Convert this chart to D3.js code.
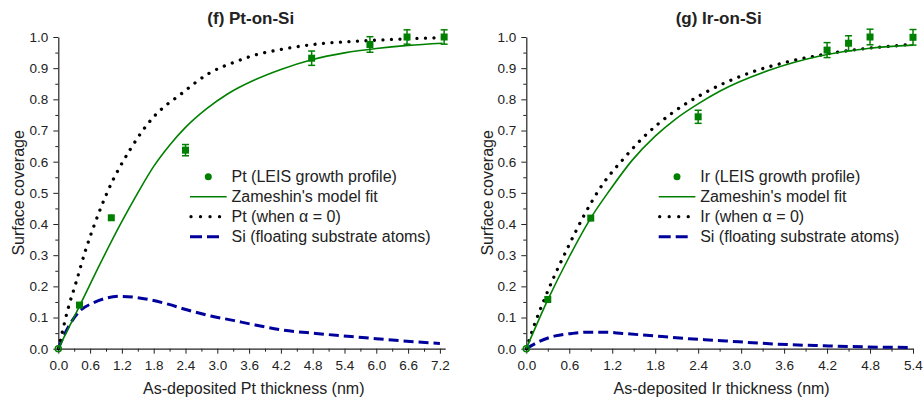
<!DOCTYPE html>
<html>
<head>
<meta charset="utf-8">
<script src="https://cdn.jsdelivr.net/npm/d3@7"></script>
<style>
  html, body { margin: 0; padding: 0; background: #fff; }
  svg { display: block; font-family: "Liberation Sans", Arial, sans-serif; }
</style>
</head>
<body>
<svg id="chart" width="924" height="405"></svg>
<script>
// ---------- DATA ----------
const yTicks = [0.0, 0.1, 0.2, 0.3, 0.4, 0.5, 0.6, 0.7, 0.8, 0.9, 1.0];
const xTicksPt = [0.0, 0.6, 1.2, 1.8, 2.4, 3.0, 3.6, 4.2, 4.8, 5.4, 6.0, 6.6, 7.2];
const xTicksIr = [0.0, 0.6, 1.2, 1.8, 2.4, 3.0, 3.6, 4.2, 4.8, 5.4];

// Pt-on-Si measured points
const ptThick = [0, 0.4, 1.0, 2.4, 4.78, 5.88, 6.58, 7.28];
const ptCov   = [0, 0.14, 0.42, 0.637, 0.932, 0.976, 1.0, 1.0];
const ptErr   = [0, 0.01, 0.01, 0.018, 0.023, 0.025, 0.023, 0.023];
// Pt model fit
const ptFitX = [0, 0.41, 0.8, 1.19, 1.5, 1.8, 2.1, 2.4, 2.8, 3.2, 3.7, 4.2, 4.8, 5.4, 6.0, 6.6, 7.25];
const ptFitY = [0, 0.14, 0.276, 0.405, 0.5, 0.585, 0.653, 0.71, 0.77, 0.818, 0.862, 0.896, 0.928, 0.949, 0.963, 0.973, 0.98];
// Pt when alpha = 0
const ptZeroX = [0, 0.05, 0.18, 0.33, 0.52, 0.69, 0.93, 1.37, 1.79, 2.33, 2.84, 3.35, 3.67, 4.2, 4.86, 5.8, 7.25];
const ptZeroY = [0, 0.035, 0.126, 0.21, 0.319, 0.402, 0.504, 0.643, 0.742, 0.819, 0.883, 0.921, 0.94, 0.96, 0.977, 0.988, 0.998];
// Si floating substrate atoms (Pt panel)
const ptSiX = [0, 0.1, 0.19, 0.4, 0.66, 0.9, 1.15, 1.44, 1.76, 2.07, 2.44, 2.88, 3.32, 3.63, 4.23, 4.86, 5.8, 6.42, 7.2];
const ptSiY = [0, 0.04, 0.07, 0.12, 0.147, 0.162, 0.168, 0.165, 0.156, 0.143, 0.124, 0.105, 0.09, 0.079, 0.06, 0.049, 0.035, 0.026, 0.017];

// Ir-on-Si measured points
const irThick = [0, 0.3, 0.9, 2.4, 4.2, 4.5, 4.8, 5.4];
const irCov   = [0, 0.158, 0.419, 0.744, 0.958, 0.98, 1.0, 0.999];
const irErr   = [0, 0.01, 0.01, 0.021, 0.024, 0.024, 0.025, 0.025];
// Ir model fit
const irFitX = [0, 0.303, 0.6, 0.9, 1.17, 1.48, 1.8, 2.08, 2.41, 2.7, 3.4, 4.1, 4.8, 5.4];
const irFitY = [0, 0.158, 0.295, 0.419, 0.51, 0.605, 0.682, 0.736, 0.787, 0.826, 0.894, 0.939, 0.964, 0.974];
// Ir when alpha = 0
const irZeroX = [0, 0.126, 0.23, 0.37, 0.57, 0.8, 1.03, 1.38, 1.62, 2.03, 2.5, 3.12, 3.61, 4.13, 4.66, 5.22, 5.4];
const irZeroY = [0, 0.085, 0.146, 0.222, 0.32, 0.425, 0.515, 0.615, 0.675, 0.755, 0.822, 0.885, 0.918, 0.943, 0.961, 0.973, 0.977];
// Si floating substrate atoms (Ir panel)
const irSiX = [0, 0.17, 0.405, 0.64, 0.87, 1.1, 1.34, 1.57, 1.9, 2.27, 2.64, 2.97, 3.66, 4.22, 4.92, 5.34];
const irSiY = [0, 0.022, 0.041, 0.049, 0.053, 0.053, 0.049, 0.045, 0.039, 0.032, 0.027, 0.022, 0.013, 0.009, 0.005, 0.004];

const titles = ["(f) Pt-on-Si", "(g) Ir-on-Si"];
const xTitles = ["As-deposited Pt thickness (nm)", "As-deposited Ir thickness (nm)"];
const yTitle = "Surface coverage";
const legendPt = ["Pt (LEIS growth profile)", "Zameshin's model fit", "Pt (when \u03b1 = 0)", "Si (floating substrate atoms)"];
const legendIr = ["Ir (LEIS growth profile)", "Zameshin's model fit", "Ir (when \u03b1 = 0)", "Si (floating substrate atoms)"];

// ---------- STYLE ----------
const GREEN = "#008000", BLUE = "#00009c", INK = "#222";

const svg = d3.select("#chart");

const panels = [
  { xMax: 7.3, xr: [58.3, 445.2], xTicks: xTicksPt, title: titles[0], xTitle: xTitles[0],
    pts: [ptThick, ptCov, ptErr], fit: [ptFitX, ptFitY], zero: [ptZeroX, ptZeroY], si: [ptSiX, ptSiY],
    legend: legendPt, legX: 190, yTitleX: 18 },
  { xMax: 5.4, xr: [526.3, 913], xTicks: xTicksIr, title: titles[1], xTitle: xTitles[1],
    pts: [irThick, irCov, irErr], fit: [irFitX, irFitY], zero: [irZeroX, irZeroY], si: [irSiX, irSiY],
    legend: legendIr, legX: 658.7, yTitleX: 487 }
];

panels.forEach(p => {
  const x = d3.scaleLinear().domain([0, p.xMax]).range(p.xr);
  const y = d3.scaleLinear().domain([0, 1]).range([348.7, 37]);
  const g = svg.append("g");

  // minor ticks
  const xMinor = d3.range(0, p.xMax + 1e-9, 0.3).filter(v => Math.abs((v / 0.6) - Math.round(v / 0.6)) > 1e-6);
  const yMinor = d3.range(0.05, 1, 0.1);
  g.append("g").attr("transform", `translate(0,${y(0)})`)
    .call(d3.axisBottom(x).tickValues(xMinor).tickSize(3).tickSizeOuter(0).tickFormat(""))
    .call(a => a.select(".domain").remove())
    .selectAll("line").attr("stroke", INK);
  g.append("g").attr("transform", `translate(${x(0)},0)`)
    .call(d3.axisLeft(y).tickValues(yMinor).tickSize(3).tickSizeOuter(0).tickFormat(""))
    .call(a => a.select(".domain").remove())
    .selectAll("line").attr("stroke", INK);

  // major axes
  const xa = g.append("g").attr("transform", `translate(0,${y(0)})`)
    .call(d3.axisBottom(x).tickValues(p.xTicks).tickSize(5).tickSizeOuter(0).tickPadding(7).tickFormat(d3.format(".1f")));
  const ya = g.append("g").attr("transform", `translate(${x(0)},0)`)
    .call(d3.axisLeft(y).tickValues(yTicks).tickSize(5).tickSizeOuter(0).tickPadding(5).tickFormat(d3.format(".1f")));
  [xa, ya].forEach(a => {
    a.select(".domain").attr("stroke", INK).attr("stroke-width", 1.2);
    a.selectAll("line").attr("stroke", INK);
    a.selectAll("text").attr("fill", INK).style("font-size", "13.5px").style("font-family", "'Liberation Sans', Arial, sans-serif");
  });

  // titles
  g.append("text").attr("x", (p.xr[0] + p.xr[1]) / 2 - 1).attr("y", 24)
    .attr("text-anchor", "middle").attr("font-weight", "bold").attr("font-size", 17).attr("fill", INK).text(p.title);
  g.append("text").attr("x", (p.xr[0] + p.xr[1]) / 2 + 2).attr("y", 394)
    .attr("text-anchor", "middle").attr("font-size", 16).attr("fill", INK).text(p.xTitle);
  g.append("text").attr("transform", `translate(${p.yTitleX + 6},${(y(0) + y(1)) / 2}) rotate(-90)`)
    .attr("text-anchor", "middle").attr("font-size", 16).attr("fill", INK).text(yTitle);

  const line = d3.line().x(d => x(d[0])).y(d => y(d[1])).curve(d3.curveMonotoneX);
  const zip = (xs, ys) => xs.map((v, i) => [v, ys[i]]);

  // Si dashed
  g.append("path").datum(zip(p.si[0], p.si[1])).attr("d", line)
    .attr("fill", "none").attr("stroke", BLUE).attr("stroke-width", 3).attr("stroke-dasharray", "10,5");
  // alpha = 0 dotted
  g.append("path").datum(zip(p.zero[0], p.zero[1])).attr("d", line)
    .attr("fill", "none").attr("stroke", "#000").attr("stroke-width", 3.3)
    .attr("stroke-linecap", "round").attr("stroke-dasharray", "0.01,8.5");
  // fit
  g.append("path").datum(zip(p.fit[0], p.fit[1])).attr("d", line)
    .attr("fill", "none").attr("stroke", GREEN).attr("stroke-width", 1.6);

  // data points
  const pts = p.pts[0].map((v, i) => ({ x: v, y: p.pts[1][i], e: p.pts[2][i] }));
  const dp = g.append("g");
  pts.forEach((d, i) => {
    if (i === 0) {
      dp.append("circle").attr("cx", x(d.x)).attr("cy", y(d.y)).attr("r", 3)
        .attr("fill", "none").attr("stroke", GREEN).attr("stroke-width", 1.5);
      return;
    }
    const cx = x(d.x), cy = y(d.y), top = y(d.y + d.e), bot = y(d.y - d.e);
    dp.append("line").attr("x1", cx).attr("x2", cx).attr("y1", top).attr("y2", bot)
      .attr("stroke", GREEN).attr("stroke-width", 1.5);
    if (d.e > 0.012) {
      [top, bot].forEach(yy => dp.append("line").attr("x1", cx - 3.5).attr("x2", cx + 3.5)
        .attr("y1", yy).attr("y2", yy).attr("stroke", GREEN).attr("stroke-width", 1.5));
    }
    dp.append("rect").attr("x", cx - 3.5).attr("y", cy - 3.5).attr("width", 7).attr("height", 7)
      .attr("fill", GREEN);
  });

  // legend
  const lx = p.legX, rows = [176.7, 196.7, 216.7, 236.7], tx = lx + 41.5;
  const lg = g.append("g");
  lg.append("circle").attr("cx", lx + 18.3).attr("cy", rows[0]).attr("r", 3.5).attr("fill", GREEN);
  lg.append("line").attr("x1", lx).attr("x2", lx + 36.7).attr("y1", rows[1]).attr("y2", rows[1])
    .attr("stroke", GREEN).attr("stroke-width", 1.6);
  lg.append("line").attr("x1", lx + 1).attr("x2", lx + 39).attr("y1", rows[2]).attr("y2", rows[2])
    .attr("stroke", "#000").attr("stroke-width", 3.3).attr("stroke-linecap", "round").attr("stroke-dasharray", "0.01,9.5");
  lg.append("line").attr("x1", lx).attr("x2", lx + 30).attr("y1", rows[3]).attr("y2", rows[3])
    .attr("stroke", BLUE).attr("stroke-width", 3).attr("stroke-dasharray", "12,5");
  p.legend.forEach((t, i) => {
    lg.append("text").attr("x", tx).attr("y", rows[i]).attr("dy", "0.35em")
      .attr("font-size", 16).attr("fill", INK).text(t);
  });
});
</script>
</body>
</html>
